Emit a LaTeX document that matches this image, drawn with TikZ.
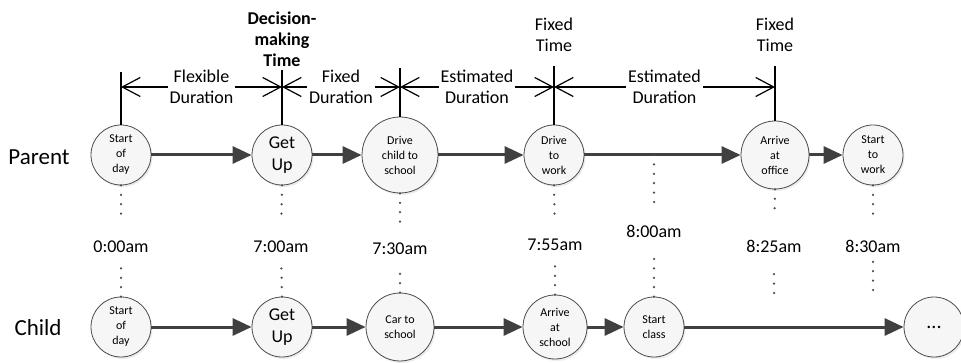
\documentclass[tikz,border=0pt]{standalone}
\usepackage{fontspec}
\setmainfont{Carlito}
\usetikzlibrary{arrows.meta,shadows}

\begin{document}
\begin{tikzpicture}[x=1pt, y=-1pt]

% Styles
\tikzset{
  evt/.style={
    circle,
    draw=black!70,
    fill=gray!7,
    line width=0.8pt,
    inner sep=0pt,
    minimum size=60pt,
    align=center,
    font=\fontsize{12}{15}\selectfont,
    drop shadow={shadow xshift=1.5pt, shadow yshift=-2pt, opacity=0.15}
  },
  bigtxt/.style={
    font=\fontsize{18}{22}\selectfont
  },
  flow/.style={
    draw=black!75,
    line width=3pt,
    -{Triangle[length=19pt, width=17pt]}
  },
  dimline/.style={
    line width=1.2pt,
    {Straight Barb[length=18pt, width=19pt]}-{Straight Barb[length=18pt, width=19pt]}
  },
  tickline/.style={
    line width=1.2pt
  },
  durlbl/.style={
    fill=white,
    align=center,
    inner sep=2pt,
    font=\fontsize{18}{21}\selectfont
  },
  timelbl/.style={
    inner sep=0pt,
    font=\fontsize{18}{21}\selectfont
  },
  dotline/.style={
    draw=black!70,
    line width=2.5pt,
    line cap=round,
    dash pattern=on 0pt off 9.4pt
  },
  dotup/.style={dotline, shorten >=18pt},
  dotdown/.style={dotline, shorten >=9pt},
  rowlbl/.style={
    font=\fontsize{23}{27}\selectfont
  }
}

\useasboundingbox (0,0) rectangle (961,363);

% Row labels
\node[rowlbl] (parent) at (39,157) {Parent};
\node[rowlbl] (child) at (38,328) {Child};

% Nodes (Parent)
\node[evt] (p1) at (121,155) {Start\\of\\day};
\node[evt, bigtxt] (p2) at (282,155) {Get\\Up};
\node[evt, minimum size=76pt] (p3) at (400,155) {Drive\\child to\\school};
\node[evt] (p4) at (554,155) {Drive\\to\\work};
\node[evt, minimum size=68pt] (p5) at (775,155) {Arrive\\at\\office};
\node[evt] (p6) at (873,155) {Start\\to\\work};

% Nodes (Child)
\node[evt] (c1) at (121,327) {Start\\of\\day};
\node[evt, bigtxt] (c2) at (282,327) {Get\\Up};
\node[evt, minimum size=68pt] (c3) at (400,327) {Car to\\school};
\node[evt, minimum size=64pt] (c4) at (555,327) {Arrive\\at\\school};
\node[evt] (c5) at (654,327) {Start\\class};
\node[evt, font=\fontsize{20}{22}\selectfont] (c6) at (934,327) {...};

% Flow arrows
\draw[flow] (p1) -- (p2);
\draw[flow] (p2) -- (p3);
\draw[flow] (p3) -- (p4);
\draw[flow] (p4) -- (p5);
\draw[flow] (p5) -- (p6);
\draw[flow] (c1) -- (c2);
\draw[flow] (c2) -- (c3);
\draw[flow] (c3) -- (c4);
\draw[flow] (c4) -- (c5);
\draw[flow] (c5) -- (c6);

% Time labels
\node[timelbl] (t1) at (121,247) {0:00am};
\node[timelbl] (t2) at (281,247) {7:00am};
\node[timelbl] (t3) at (400,249) {7:30am};
\node[timelbl] (t4) at (555,245) {7:55am};
\node[timelbl] (t5) at (654,231) {8:00am};
\node[timelbl] (t6) at (774,246) {8:25am};
\node[timelbl] (t7) at (873,246) {8:30am};

\coordinate (x5) at (654,155);
\coordinate (e6) at (774,293);
\coordinate (e7) at (873,290);

% Dotted time marks
\draw[dotup] (p1.south) -- (t1.north);
\draw[dotdown] (c1.north) -- (t1.south);
\draw[dotup] (p2.south) -- (t2.north);
\draw[dotdown] (c2.north) -- (t2.south);
\draw[dotup] (p3.south) -- (t3.north);
\draw[dotdown, shorten >=14pt] (c3.north) -- (t3.south);
\draw[dotup] (p4.south) -- (t4.north);
\draw[dotdown] (c4.north) -- (t4.south);
\draw[dotup, shorten >=22pt] (x5) -- (t5.north);
\draw[dotdown, shorten >=13pt] (c5.north) -- (t5.south);
\draw[dotup, shorten >=22pt] (p5.south) -- (t6.north);
\draw[dotdown, shorten >=13pt] (e6) -- (t6.south);
\draw[dotup] (p6.south) -- (t7.north);
\draw[dotdown] (e7) -- (t7.south);

% Ticks and durations
\coordinate (d1) at (121,87);
\coordinate (d2) at (282,87);
\coordinate (d3) at (400,87);
\coordinate (d4) at (554,87);
\coordinate (d5) at (775,87);
\coordinate (k1) at (121,72);
\coordinate (k2) at (282,70);
\coordinate (k3) at (400,68);
\coordinate (k4) at (554,66);
\coordinate (k5) at (775,66);

\draw[tickline] (p1.north) -- (k1);
\draw[tickline] (p2.north) -- (k2);
\draw[tickline] (p3.north) -- (k3);
\draw[tickline] (p4.north) -- (k4);
\draw[tickline] (p5.north) -- (k5);

\draw[dimline] (d1) -- (d2) node[midway, durlbl] {Flexible\\Duration};
\draw[dimline] (d2) -- (d3) node[midway, durlbl] {Fixed\\Duration};
\draw[dimline] (d3) -- (d4) node[midway, durlbl] {Estimated\\Duration};
\draw[dimline] (d4) -- (d5) node[midway, durlbl] {Estimated\\Duration};

% Time kinds
\node[timelbl, align=center, font=\fontsize{18}{21}\selectfont\bfseries] (dm) at (282,39) {Decision-\\making\\Time};
\node[timelbl, align=center] (ft1) at (554,35) {Fixed\\Time};
\node[timelbl, align=center] (ft2) at (775,35) {Fixed\\Time};

\end{tikzpicture}
\end{document}
